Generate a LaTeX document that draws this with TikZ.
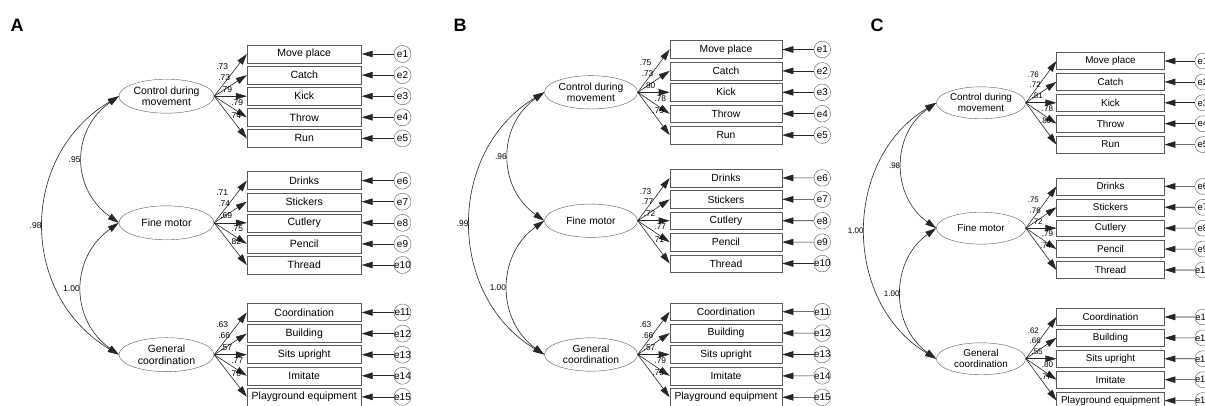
\documentclass[tikz,border=0pt]{standalone}
\usepackage{fontspec}
\setmainfont{Liberation Sans}
\usetikzlibrary{arrows.meta, shapes.geometric, positioning}

\definecolor{ink}{HTML}{262626}
\definecolor{rim}{HTML}{5A5A5A}

\tikzset{
  lat/.style={ellipse, draw=rim, minimum width=95pt, minimum height=34pt, inner sep=0pt, align=center, font=\fontsize{10.5}{11.7}\selectfont},
  obs/.style={rectangle, draw=rim, minimum width=114.5pt, minimum height=18pt, inner sep=0pt, font=\fontsize{10.5}{11.7}\selectfont},
  err/.style={circle, draw=rim, minimum size=17pt, inner sep=-1.5pt, font=\fontsize{10}{10}\selectfont},
  arr/.style={draw=ink, line width=0.6pt, -{Triangle[length=11pt,width=6.5pt]}},
  dblarr/.style={draw=ink, line width=0.6pt, {Triangle[length=11pt,width=6.5pt]}-{Triangle[length=11pt,width=6.5pt]}},
  wt/.style={font=\fontsize{8.5}{8.5}\selectfont, inner sep=0pt},
  panel/.style={font=\fontsize{18}{18}\selectfont\bfseries},
}

% #1 origin, #2 scale, #3 row pitch, #4 loadings, #5-#7 correlations
\newcommand{\sempanel}[7]{%
\begin{scope}[shift={#1}, scale=#2, transform shape]
  \node[lat] (lv1) at (0, 2*#3) {Control during\\movement};
  \node[lat] (lv2) at (0, 8*#3) {Fine motor};
  \node[lat] (lv3) at (0, 14.25*#3) {General\\coordination};
  \foreach \txt [count=\k] in {Move place, Catch, Kick, Throw, Run, Drinks, Stickers, Cutlery, Pencil, Thread, Coordination, Building, Sits upright, Imitate, Playground equipment} {
    \pgfmathsetmacro\yy{#3*(\k-1+(\k>5)+1.25*(\k>10))}
    \node[obs] (ob\k) at (137.75, \yy) {\txt};
    \node[err] (e\k) at (236, \yy) {e\k};
    \draw[arr] (e\k) -- (ob\k);
  }
  \foreach \ld [count=\k] in {#4} {
    \pgfmathtruncatemacro\grp{(\k-1)/5+1}
    \pgfmathtruncatemacro\idx{mod(\k-1,5)}
    \pgfmathparse{{8,10,12,23,21}[\idx]}\let\dx\pgfmathresult
    \pgfmathparse{{-30,-19,-7,6,19}[\idx]}\let\dy\pgfmathresult
    \path (lv\grp.east) ++(\dx,\dy) node[wt] (w\k) {\ld};
    \draw[arr] (lv\grp.east) -- (ob\k.west);
  }
  \draw[dblarr] (lv1.west) .. controls +(-48,34) and +(-48,-34) .. (lv2.west) node[wt, pos=.5, left=2pt] (r12) {#5};
  \draw[dblarr] (lv2.west) .. controls +(-49,35) and +(-49,-35) .. (lv3.west) node[wt, pos=.5, left=2pt] (r23) {#6};
  \draw[dblarr] (lv1.west) .. controls +(-100,60) and +(-100,-60) .. (lv3.west) node[wt, pos=.5, left=2pt] (r13) {#7};
\end{scope}}

\begin{document}
\begin{tikzpicture}[x=1pt, y=-1pt]
  \useasboundingbox (0,0) rectangle (1205,405);
  \clip (0,0) rectangle (1205,405);

  \node[panel] (pA) at (17,25) {A};
  \node[panel] (pB) at (460,25) {B};
  \node[panel] (pC) at (877,25) {C};

  \sempanel{(166.5,54)}{1}{21.1}{.73,.73,.79,.79,.74,.71,.74,.69,.75,.82,.63,.66,.57,.77,.76}{.95}{1.00}{.98}
  \sempanel{(591,49.5)}{0.98}{21.84}{.75,.73,.80,.78,.75,.73,.77,.72,.77,.71,.63,.66,.57,.79,.75}{.96}{1.00}{.99}
  \sempanel{(981,61)}{0.94}{22.23}{.76,.72,.81,.78,.80,.75,.76,.72,.79,.74,.62,.66,.55,.80,.77}{.98}{1.00}{1.00}
\end{tikzpicture}
\end{document}
